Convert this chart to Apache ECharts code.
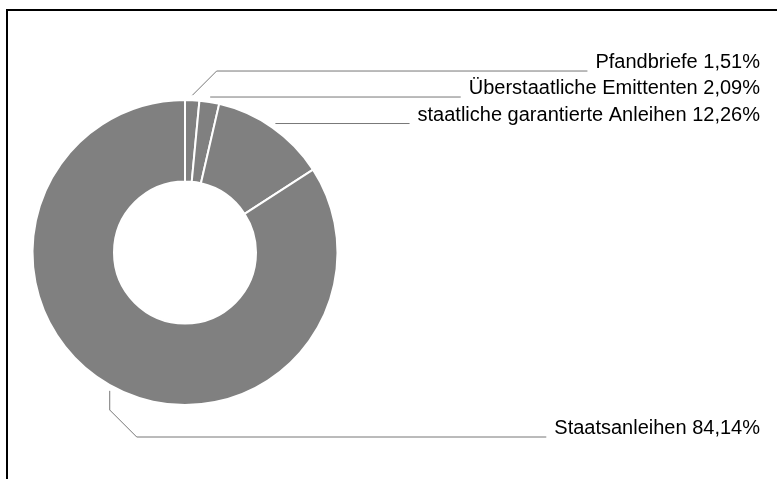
<!DOCTYPE html>
<html><head><meta charset="utf-8">
<script src="https://cdn.jsdelivr.net/npm/echarts@6/dist/echarts.min.js"></script>
<style>html,body{margin:0;padding:0;background:#fff}#c{width:777px;height:479px}</style>
</head><body><div id="c"></div>
<script>
const categories = ['Pfandbriefe', 'Überstaatliche Emittenten', 'staatliche garantierte Anleihen', 'Staatsanleihen'];
const shares = [1.51, 2.09, 12.26, 84.14];

const CX = 185, CY = 252.5, R0 = 71, R = 152.5;
const FONT_SIZE = 20, FONT_FAMILY = '"Liberation Sans", Arial, sans-serif';
const LABEL_RIGHT = 760, ROW_GAP = 26, LINE_GAP = 8, LEAD = 5, DIAG = 27, BOTTOM_ROW = 32, TEXT_SHIFT = 8.5;

const fmt = v => v.toFixed(2).replace('.', ',') + '%';
const labelText = i => categories[i] + ' ' + fmt(shares[i]);

const mctx = document.createElement('canvas').getContext('2d');
mctx.font = FONT_SIZE + 'px ' + FONT_FAMILY;

// label line rows
const total = shares.reduce((a, b) => a + b, 0);
let cum = 0;
const anchors = shares.map((v, i) => {
  const mid = (cum + v / 2) / total * 2 * Math.PI; cum += v;
  const sin = Math.sin(mid), cos = Math.cos(mid);
  return { i, sx: CX + (R + LEAD) * sin, sy: CY - (R + LEAD) * cos, right: sin > 0 && cos > 0 };
});
const rows = {};
anchors.filter(a => a.right).sort((a, b) => b.sy - a.sy).reduce((prev, a) => {
  const ly = prev == null ? a.sy : Math.min(a.sy, prev - ROW_GAP);
  rows[a.i] = ly; return ly;
}, null);
anchors.filter(a => !a.right).forEach(a => { rows[a.i] = CY + R + BOTTOM_ROW; });

const chart = echarts.init(document.getElementById('c'), null, { renderer: 'canvas' });
chart.setOption({
  animation: false,
  backgroundColor: '#fff',
  graphic: [{
    type: 'rect', silent: true,
    shape: { x: 7, y: 10, width: 820, height: 520 },
    style: { fill: 'none', stroke: '#000', lineWidth: 2 }
  }],
  series: [{
    type: 'pie',
    center: [CX, CY], radius: [R0, R],
    startAngle: 90, clockwise: true,
    avoidLabelOverlap: false,
    silent: true,
    data: categories.map((n, i) => ({ name: n, value: shares[i] })),
    itemStyle: { color: '#808080', borderColor: '#fff', borderWidth: 2 },
    label: {
      show: true, position: 'outside', overflow: 'none',
      formatter: p => labelText(p.dataIndex),
      color: '#000', fontSize: FONT_SIZE, fontFamily: FONT_FAMILY
    },
    labelLine: { show: true, lineStyle: { color: '#777', width: 1 } },
    emphasis: { disabled: true },
    labelLayout: function (params) {
      const i = params.dataIndex;
      const a = anchors[i];
      const ly = rows[i];
      const w = mctx.measureText(labelText(i)).width;
      const dy = ly - a.sy, ady = Math.abs(dy);
      const diag = Math.min(ady, DIAG), vert = ady - diag;
      const pts = [[a.sx, a.sy]];
      let x = a.sx, y = a.sy;
      if (vert > 0) { y += Math.sign(dy) * vert; }
      pts.push([x, y]);
      if (diag > 0) { x += diag; y = ly; }
      pts.push([x, y]);
      pts.push([LABEL_RIGHT - w - LINE_GAP, ly]);
      return {
        x: LABEL_RIGHT, y: ly - TEXT_SHIFT, align: 'right', verticalAlign: 'middle',
        labelLinePoints: pts
      };
    }
  }]
});
</script></body></html>
